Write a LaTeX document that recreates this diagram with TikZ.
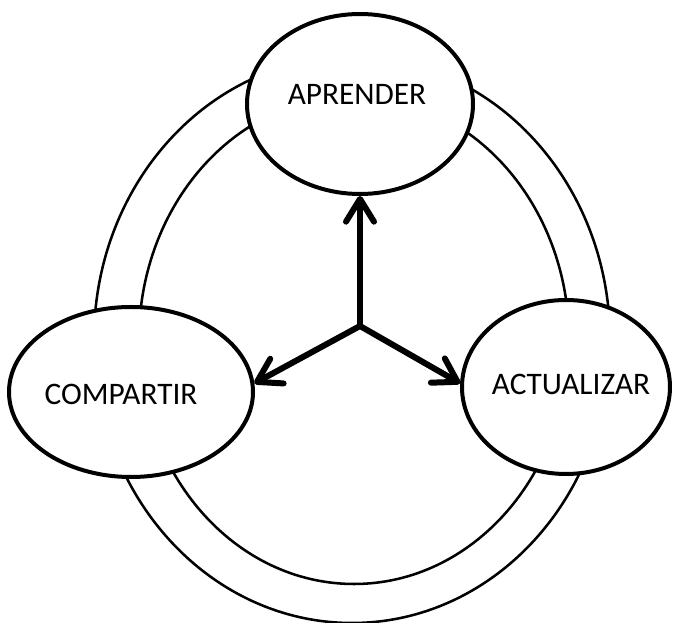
\documentclass[tikz,border=0pt]{standalone}
\usepackage{fontspec}
\setmainfont{Carlito}
\usetikzlibrary{shapes.geometric,arrows.meta}
\tikzset{
  ringline/.style={line width=1.9pt},
  bubble/.style={ellipse,draw,line width=3pt,fill=white,inner sep=0pt},
  lbl/.style={inner sep=0pt,font=\fontsize{23.5pt}{28pt}\selectfont},
  bigarrow/.style={line width=4.5pt,line cap=round,-{Straight Barb[length=17pt,width=21pt,round]}}
}
\begin{document}
\begin{tikzpicture}[x=0.75pt,y=-0.75pt]
\useasboundingbox (0,0) rectangle (676,623);
% ring
\draw[ringline] (352,340) ellipse [x radius=193.5pt, y radius=212.25pt];
\draw[ringline] (354,340) ellipse [x radius=161.25pt, y radius=183pt];
% bubbles
\node[bubble,minimum width=169.5pt,minimum height=135pt] (apr) at (360,104) {};
\node[bubble,minimum width=183pt,minimum height=127.5pt] (comp) at (131,392) {};
\node[bubble,minimum width=156pt,minimum height=130.5pt] (act) at (566,387) {};
\node[lbl] (aprt) at (357,94) {APRENDER};
\node[lbl] (compt) at (121,394) {COMPARTIR};
\node[lbl] (actt) at (571,384) {ACTUALIZAR};
% arrows
\coordinate (c) at (360,326);
\draw[bigarrow] (c) -- (apr.south);
\draw[bigarrow] (c) -- (comp.4);
\draw[bigarrow] (c) -- (act.178);
\end{tikzpicture}
\end{document}
